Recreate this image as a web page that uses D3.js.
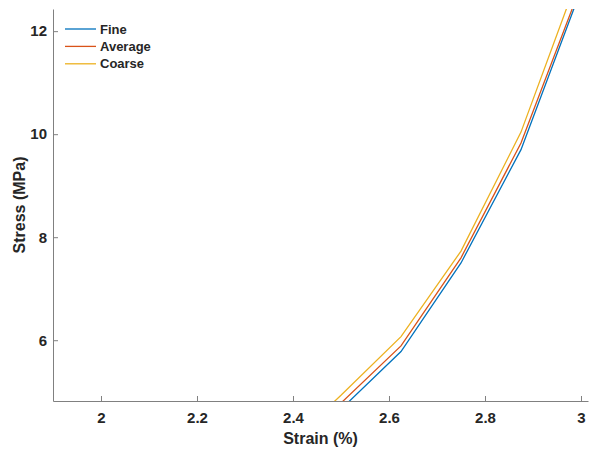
<!DOCTYPE html>
<html><head><meta charset="utf-8">
<script src="https://cdn.jsdelivr.net/npm/d3@7"></script>
<style>body{margin:0;background:#fff}svg{display:block}text{font-family:"Liberation Sans",Arial,sans-serif;font-weight:bold;fill:#262626}</style>
</head><body>
<svg id="c" width="590" height="452"></svg>
<script>
const strain = [2.375, 2.5, 2.625, 2.75, 2.875, 3.0];
const fine    = [3.55, 4.66, 5.78, 7.50, 9.70, 12.80];
const average = [3.70, 4.78, 5.89, 7.60, 9.83, 12.88];
const coarse  = [3.85, 4.93, 6.07, 7.73, 10.04, 13.20];
const seriesNames = ["Fine", "Average", "Coarse"];
const colors = ["#0072BD", "#D95319", "#EDB120"];
const xTicks = [2, 2.2, 2.4, 2.6, 2.8, 3];
const yTicks = [6, 8, 10, 12];

const svg = d3.select("#c");
const L = 53, R = 588, T = 9, B = 401;
const x = d3.scaleLinear().domain([1.9, 3.0146]).range([L, R]);
const y = d3.scaleLinear().domain([4.82, 12.43]).range([B, T]);

svg.append("defs").append("clipPath").attr("id","clip")
  .append("rect").attr("x",L).attr("y",T).attr("width",R-L).attr("height",B-T);

const series = [fine, average, coarse];
const line = d3.line().x((d,i)=>x(strain[i])).y(d=>y(d));
const g = svg.append("g").attr("clip-path","url(#clip)");
series.forEach((s,k)=>{
  g.append("path").attr("d", line(s)).attr("fill","none")
   .attr("stroke", colors[k]).attr("stroke-width",1.3);
});

const xa = svg.append("g").attr("transform",`translate(0,${B})`)
  .call(d3.axisBottom(x).tickValues(xTicks).tickSizeInner(-5).tickSizeOuter(0).tickPadding(11).tickFormat(d3.format("")));
const ya = svg.append("g").attr("transform",`translate(${L},0)`)
  .call(d3.axisLeft(y).tickValues(yTicks).tickSizeInner(-5).tickSizeOuter(0).tickPadding(6));
[xa,ya].forEach(a=>{
  a.select(".domain").attr("stroke","#808080");
  a.selectAll(".tick line").attr("stroke","#808080");
  a.selectAll(".tick text").attr("font-size",15).attr("font-family",'"Liberation Sans",Arial,sans-serif').attr("font-weight","bold").attr("fill","#262626");
});

svg.append("text").attr("x",(L+R)/2).attr("y",444).attr("text-anchor","middle")
  .attr("font-size",16).text("Strain (%)");
svg.append("text").attr("transform",`translate(25,${(T+B)/2}) rotate(-90)`).attr("text-anchor","middle")
  .attr("font-size",16).text("Stress (MPa)");

const lg = svg.append("g");
seriesNames.forEach((n,k)=>{
  const yy = 29 + k*17.4;
  lg.append("line").attr("x1",65).attr("x2",96).attr("y1",yy).attr("y2",yy)
    .attr("stroke",colors[k]).attr("stroke-width",1.3);
  lg.append("text").attr("x",100).attr("y",yy+4.5).attr("font-size",13).text(n);
});
</script>
</body></html>
